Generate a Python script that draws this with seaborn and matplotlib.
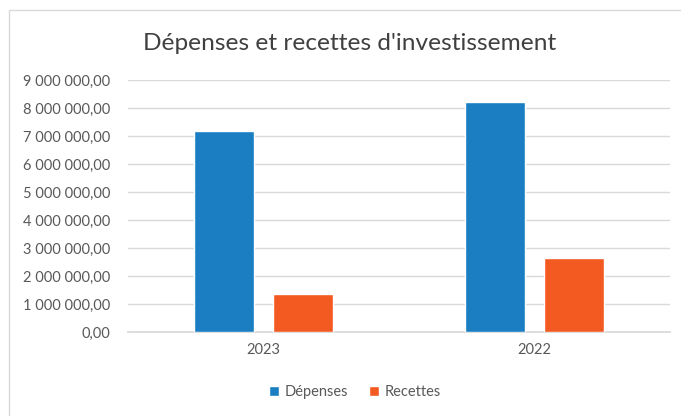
import numpy as np
import pandas as pd
import matplotlib.pyplot as plt
import seaborn as sns
from matplotlib.patches import Rectangle
from matplotlib.ticker import FuncFormatter

annees = ["2023", "2022"]
depenses = [7190000, 8220000]
recettes = [1350000, 2630000]
series = ["Dépenses", "Recettes"]
couleurs = ["#1b7ec2", "#f25a22"]

df = pd.DataFrame({
    "annee": annees * 2,
    "montant": depenses + recettes,
    "type": [series[0]] * 2 + [series[1]] * 2,
})

sns.set_theme(style="white")
plt.rcParams["font.family"] = ["Lato", "DejaVu Sans"]

fig = plt.figure(figsize=(6.81, 4.16), dpi=100)
ax = fig.add_axes([128 / 681, 84 / 416, 542 / 681, 252 / 416])

sns.barplot(data=df, x="annee", y="montant", hue="type", order=annees,
            hue_order=series, palette=couleurs, width=0.583, gap=0.228,
            saturation=1, ax=ax, zorder=3)

ax.set_ylim(0, 9000000)
ax.set_yticks(np.arange(0, 9000001, 1000000))


def fmt(v, pos):
    s = f"{v:,.2f}".replace(",", " ").replace(".", ",")
    return s


ax.yaxis.set_major_formatter(FuncFormatter(fmt))
ax.grid(axis="y", color="#d9d9d9", linewidth=1, zorder=0)
for s in ["top", "right", "left"]:
    ax.spines[s].set_visible(False)
ax.spines["bottom"].set_color("#d9d9d9")
ax.tick_params(axis="both", length=0, labelsize=10.5, colors="#595959")
ax.tick_params(axis="y", pad=13)
ax.tick_params(axis="x", pad=8)
ax.set_xlabel("")
ax.set_ylabel("")

fig.text(0.514, 0.895, "Dépenses et recettes d'investissement",
         ha="center", va="center", fontsize=17.6, color="#404040")

leg = ax.legend(loc="center", bbox_to_anchor=(355 / 681, 1 - 392 / 416),
                bbox_transform=fig.transFigure, ncol=2, frameon=False,
                fontsize=10.5, handlelength=0.7, handleheight=0.7,
                handletextpad=0.4, columnspacing=1.4)
for t in leg.get_texts():
    t.set_color("#595959")

fig.patches.append(Rectangle((9 / 681, -0.1), 1.2, (416 - 10) / 416 + 0.1,
                             transform=fig.transFigure, fill=False,
                             edgecolor="#d9d9d9", linewidth=1, figure=fig))

fig.savefig("out.png", dpi=100)
